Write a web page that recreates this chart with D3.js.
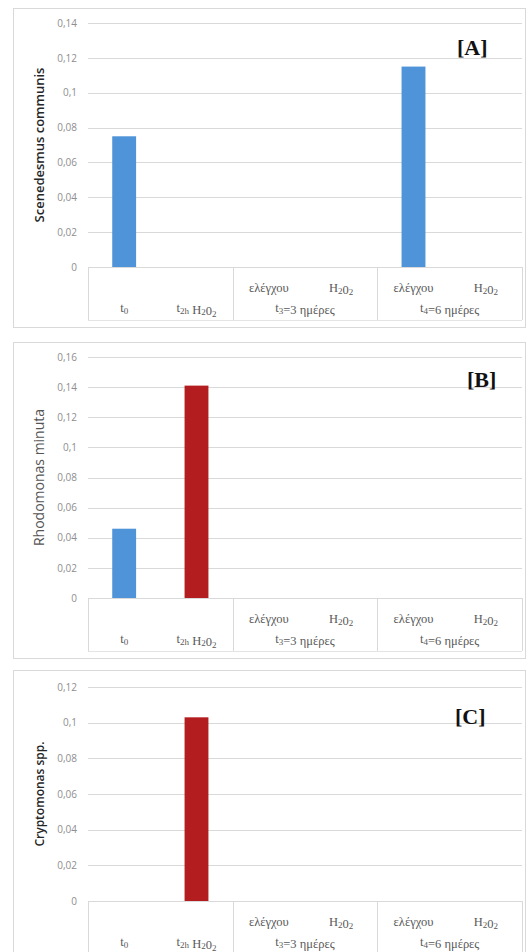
<!DOCTYPE html>
<html>
<head>
<meta charset="utf-8">
<script src="https://cdn.jsdelivr.net/npm/d3@7"></script>
<style>
	body { margin: 0; background: #ffffff; }
	svg { display: block; }
</style>
</head>
<body>
<div id="chart"></div>
<script>

// ---DATA---//

var categories = [ "t0", "t2h H2O2", "ελέγχου t3", "H2O2 t3", "ελέγχου t6", "H2O2 t6" ];

// blue for t0 / control, red for peroxide
var categoryColors = [ "#4f94d9", "#b41d1f", "#4f94d9", "#b41d1f", "#4f94d9", "#b41d1f" ];

var scenedesmusValues = [ 0.075, null, null, null, 0.115, null ];
var rhodomonasValues = [ 0.046, 0.141, null, null, null, null ];
var cryptomonasValues = [ null, 0.103, null, null, null, null ];

var scenedesmusTicks = [ 0, 0.02, 0.04, 0.06, 0.08, 0.1, 0.12, 0.14 ];
var rhodomonasTicks = [ 0, 0.02, 0.04, 0.06, 0.08, 0.1, 0.12, 0.14, 0.16 ];
var cryptomonasTicks = [ 0, 0.02, 0.04, 0.06, 0.08, 0.1, 0.12 ];

// label pieces: [text, isSubscript]
var upperLabels = [ null, null, [ [ "ελέγχου" ] ], [ [ "H" ], [ "2", 1 ], [ "0" ], [ "2", 1 ] ],
		[ [ "ελέγχου" ] ], [ [ "H" ], [ "2", 1 ], [ "0" ], [ "2", 1 ] ] ];
var lowerLabels = [ [ [ "t" ], [ "0", 1 ] ],
		[ [ "t" ], [ "2h", 1 ], [ " H" ], [ "2", 1 ], [ "0" ], [ "2", 1 ] ] ];
var groupLabels = [ [ [ "t" ], [ "3", 1 ], [ "=3 ημέρες" ] ], [ [ "t" ], [ "4", 1 ], [ "=6 ημέρες" ] ] ];

// ---LAYOUT---//

var width = 529;
var height = 952;

var plotLeft = 88;
var plotRight = 522;

var svg = d3.select("#chart").append("svg") //
.attr("width", width) //
.attr("height", height);

var x = d3.scaleBand().domain(categories).range([ plotLeft, plotRight ]).paddingInner(0.67).paddingOuter(0.335);
var xCat = d3.scaleBand().domain(categories).range([ plotLeft, plotRight ]);

function tickFormat(d) {
	return String(+d.toFixed(2)).replace(".", ",");
}// END: tickFormat

function writePieces(text, pieces) {

	pieces.forEach(function(p) {
		var t = text.append("tspan").text(p[0]);
		if (p[1]) {
			t.attr("font-size", "0.72em").attr("dy", "0.18em");
		} else {
			t.attr("font-size", "1em");
		}
	});

}// END: writePieces

function drawPanel(opts) {

	var g = svg.append("g").attr("class", "panel");

	// frame
	g.append("rect") //
	.attr("x", 13.5) //
	.attr("y", opts.frameTop + 0.5) //
	.attr("width", 512) //
	.attr("height", opts.frameBottom - opts.frameTop) //
	.attr("fill", "none") //
	.attr("stroke", "#d9d9d9");

	var y = d3.scaleLinear().domain([ 0, d3.max(opts.ticks) ]).range([ opts.plotBottom, opts.plotTop ]);

	// gridlines
	g.selectAll("line.grid").data(opts.ticks).enter().append("line") //
	.attr("class", "grid") //
	.attr("x1", plotLeft) //
	.attr("x2", plotRight) //
	.attr("y1", function(d) {
		return Math.round(y(d)) + 0.5;
	}) //
	.attr("y2", function(d) {
		return Math.round(y(d)) + 0.5;
	}) //
	.attr("stroke", "#d9d9d9");

	// tick labels
	var axis = d3.axisLeft(y).tickValues(opts.ticks).tickFormat(tickFormat).tickSize(0).tickPadding(0);
	var axisG = g.append("g").attr("transform", "translate(77,0)").call(axis);
	axisG.select(".domain").remove();
	axisG.selectAll("text") //
	.attr("font-family", "'Open Sans', sans-serif") //
	.attr("font-size", "10px") //
	.attr("fill", "#8e8e8e");

	// bars
	var data = categories.map(function(c, i) {
		return {
			category : c,
			value : opts.values[i],
			color : categoryColors[i]
		};
	}).filter(function(d) {
		return d.value != null;
	});

	g.selectAll("rect.bar").data(data).enter().append("rect") //
	.attr("class", "bar") //
	.attr("x", function(d) {
		return x(d.category);
	}) //
	.attr("y", function(d) {
		return y(d.value);
	}) //
	.attr("width", x.bandwidth()) //
	.attr("height", function(d) {
		return y(0) - y(d.value);
	}) //
	.attr("fill", function(d) {
		return d.color;
	});

	// category table
	var tableBottom = opts.plotBottom + 53;
	var dividers = [ plotLeft, xCat(categories[2]), xCat(categories[4]), plotRight ];

	g.selectAll("line.divider").data(dividers).enter().append("line") //
	.attr("class", "divider") //
	.attr("x1", function(d) {
		return Math.round(d) + 0.5;
	}) //
	.attr("x2", function(d) {
		return Math.round(d) + 0.5;
	}) //
	.attr("y1", opts.plotBottom) //
	.attr("y2", tableBottom) //
	.attr("stroke", "#d9d9d9");

	g.append("line") //
	.attr("x1", plotLeft) //
	.attr("x2", plotRight) //
	.attr("y1", tableBottom + 0.5) //
	.attr("y2", tableBottom + 0.5) //
	.attr("stroke", "#e4e4e4");

	var labelFont = "'Liberation Serif', 'Times New Roman', serif";

	upperLabels.forEach(function(pieces, i) {
		if (!pieces) {
			return;
		}
		var t = g.append("text") //
		.attr("x", xCat(categories[i]) + xCat.bandwidth() / 2) //
		.attr("y", opts.plotBottom + 25) //
		.attr("text-anchor", "middle") //
		.attr("font-family", labelFont) //
		.attr("font-size", "12.5px") //
		.attr("fill", "#595959");
		writePieces(t, pieces);
	});

	lowerLabels.forEach(function(pieces, i) {
		var t = g.append("text") //
		.attr("x", xCat(categories[i]) + xCat.bandwidth() / 2) //
		.attr("y", opts.plotBottom + 45) //
		.attr("text-anchor", "middle") //
		.attr("font-family", labelFont) //
		.attr("font-size", "12.5px") //
		.attr("fill", "#595959");
		writePieces(t, pieces);
	});

	groupLabels.forEach(function(pieces, i) {
		var t = g.append("text") //
		.attr("x", xCat(categories[2 + 2 * i]) + xCat.bandwidth()) //
		.attr("y", opts.plotBottom + 45) //
		.attr("text-anchor", "middle") //
		.attr("font-family", labelFont) //
		.attr("font-size", "12.5px") //
		.attr("fill", "#595959");
		writePieces(t, pieces);
	});

	// y axis title
	g.append("text") //
	.attr("transform", "translate(44," + ((opts.plotTop + opts.plotBottom) / 2) + ") rotate(-90)") //
	.attr("text-anchor", "middle") //
	.attr("font-family", "'Open Sans', sans-serif") //
	.attr("font-size", opts.titleSize) //
	.attr("font-weight", opts.titleWeight) //
	.attr("fill", opts.titleColor) //
	.text(opts.title);

	// panel tag
	g.append("text") //
	.attr("x", opts.tagX) //
	.attr("y", opts.tagY) //
	.attr("font-family", labelFont) //
	.attr("font-size", "22px") //
	.attr("font-weight", "bold") //
	.attr("fill", "#111111") //
	.text(opts.tag);

}// END: drawPanel

drawPanel({
	frameTop : 8,
	frameBottom : 327,
	plotTop : 23,
	plotBottom : 267,
	ticks : scenedesmusTicks,
	values : scenedesmusValues,
	title : "Scenedesmus communis",
	titleSize : "13px",
	titleWeight : "600",
	titleColor : "#262626",
	tag : "[A]",
	tagX : 457,
	tagY : 55
});

drawPanel({
	frameTop : 342,
	frameBottom : 658,
	plotTop : 357,
	plotBottom : 598,
	ticks : rhodomonasTicks,
	values : rhodomonasValues,
	title : "Rhodomonas minuta",
	titleSize : "14px",
	titleWeight : "normal",
	titleColor : "#555555",
	tag : "[B]",
	tagX : 467,
	tagY : 387
});

drawPanel({
	frameTop : 670,
	frameBottom : 960,
	plotTop : 687,
	plotBottom : 901,
	ticks : cryptomonasTicks,
	values : cryptomonasValues,
	title : "Cryptomonas spp.",
	titleSize : "12px",
	titleWeight : "600",
	titleColor : "#262626",
	tag : "[C]",
	tagX : 455,
	tagY : 724
});

</script>
</body>
</html>
